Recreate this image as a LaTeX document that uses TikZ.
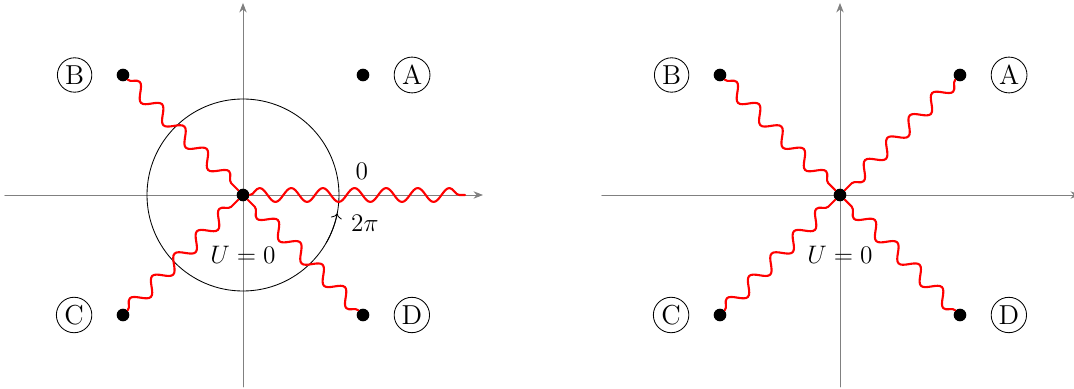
\documentclass[tikz,border=0pt]{standalone}
\usetikzlibrary{arrows.meta,positioning,decorations.pathmorphing}

\begin{document}
\begin{tikzpicture}[>=To, line cap=round, line join=round,
  font=\fontsize{13}{16}\selectfont,
  axis/.style={-{Stealth[length=4.5pt, width=3.5pt]}, gray},
  pt/.style={circle, fill=black, inner sep=0pt, minimum size=6pt},
  lbl/.style={circle, draw, inner sep=1.3pt},
  cut/.style={red, line width=1pt, decorate, decoration={snake, amplitude=3.3pt, segment length=15pt}}]

\useasboundingbox (-4.05,-3.22) rectangle (13.85,3.25);

% left plane
\draw[axis] (-3.97,0) -- (4,0);
\draw[axis] (0,-3.2) -- (0,3.2);
\draw (0,0) circle (1.6);
\draw[->] (-30:1.6) arc (-30:-11:1.6);
\node[pt] (o1) at (0,0) {};
\node[pt] (a1) at (2,2) {};
\node[pt] (b1) at (-2,2) {};
\node[pt] (c1) at (-2,-2) {};
\node[pt] (d1) at (2,-2) {};
\coordinate (e1) at (3.7,0);
\node[lbl, right=0.4cm of a1] (la1) {A};
\node[lbl, left=0.4cm of b1] (lb1) {B};
\node[lbl, left=0.4cm of c1] (lc1) {C};
\node[lbl, right=0.4cm of d1] (ld1) {D};
\node (u1) at (0,-1) {$U=0$};
\node (z1) at (1.98,0.4) {$0$};
\node (t1) at (2.03,-0.47) {$2\pi$};
\draw[cut] (b1) -- (o1);
\draw[cut] (c1) -- (o1);
\draw[cut] (d1) -- (o1);
\draw[cut] (o1) -- (e1);

% right plane
\begin{scope}[xshift=9.95cm]
\draw[axis] (-3.97,0) -- (4,0);
\draw[axis] (0,-3.2) -- (0,3.2);
\node[pt] (o2) at (0,0) {};
\node[pt] (a2) at (2,2) {};
\node[pt] (b2) at (-2,2) {};
\node[pt] (c2) at (-2,-2) {};
\node[pt] (d2) at (2,-2) {};
\node[lbl, right=0.4cm of a2] (la2) {A};
\node[lbl, left=0.4cm of b2] (lb2) {B};
\node[lbl, left=0.4cm of c2] (lc2) {C};
\node[lbl, right=0.4cm of d2] (ld2) {D};
\node (u2) at (0,-1) {$U=0$};
\draw[cut] (a2) -- (o2);
\draw[cut] (b2) -- (o2);
\draw[cut] (c2) -- (o2);
\draw[cut] (d2) -- (o2);
\end{scope}

\end{tikzpicture}
\end{document}
